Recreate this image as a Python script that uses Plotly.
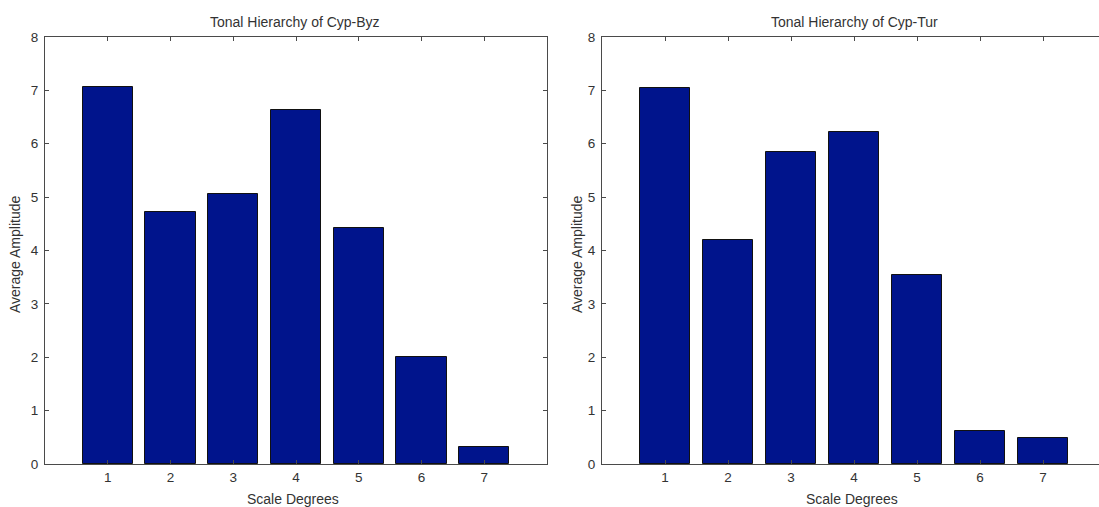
import plotly.graph_objects as go

# Scale degrees and average amplitude per degree
degrees = [1, 2, 3, 4, 5, 6, 7]
cyp_byz = [7.06, 4.73, 5.05, 6.64, 4.42, 2.0, 0.32]
cyp_tur = [7.05, 4.19, 5.84, 6.22, 3.54, 0.61, 0.49]
y_ticks = [0, 1, 2, 3, 4, 5, 6, 7, 8]
titles = ["Tonal Hierarchy of Cyp-Byz", "Tonal Hierarchy of Cyp-Tur"]
x_label = "Scale Degrees"
y_label = "Average Amplitude"

W, H = 1099, 507
BAR = "#00148C"
AXIS = "#4a4a4a"
TEXT = "#333333"
FONT = "Liberation Sans, Arial, sans-serif"

fig = go.Figure()
fig.add_trace(go.Bar(x=degrees, y=cyp_byz, width=0.8, marker=dict(color=BAR, line=dict(color="#111111", width=1)),
                     xaxis="x", yaxis="y", showlegend=False))
fig.add_trace(go.Bar(x=degrees, y=cyp_tur, width=0.8, marker=dict(color=BAR, line=dict(color="#111111", width=1)),
                     xaxis="x2", yaxis="y2", showlegend=False))

# panel geometry in pixels
left_dom = (45 / W, 547 / W)
right_dom = (602 / W, 1.0)
y_dom = ((H - 464) / H, (H - 37) / H)

tick_font = dict(size=13.5, color=TEXT, family=FONT)
xcommon = dict(tickmode="array", tickvals=degrees, ticks="inside", ticklen=4, tickcolor=AXIS,
               showline=True, linecolor=AXIS, linewidth=1, mirror="ticks", showgrid=False,
               zeroline=False, tickfont=tick_font, ticklabelstandoff=1, automargin=False,
               fixedrange=True)
ycommon = dict(tickmode="array", tickvals=y_ticks, range=[0, 8], ticks="inside", ticklen=4,
               tickcolor=AXIS, showline=True, linecolor=AXIS, linewidth=1, showgrid=False,
               zeroline=False, tickfont=tick_font, ticklabelstandoff=3, automargin=False,
               fixedrange=True)

fig.update_layout(
    width=W, height=H,
    margin=dict(l=0, r=0, t=0, b=0, pad=0),
    paper_bgcolor="white", plot_bgcolor="white",
    bargap=0,
    xaxis=dict(domain=list(left_dom), range=[0, 8], anchor="y", **xcommon),
    yaxis=dict(domain=list(y_dom), anchor="x", mirror="ticks", **ycommon),
    xaxis2=dict(domain=list(right_dom), range=[0, (W - 602) / 63.0], anchor="y2", **xcommon),
    yaxis2=dict(domain=list(y_dom), anchor="x2", mirror=False, **ycommon),
)

# titles and axis labels
ann_font = dict(size=14, color=TEXT, family=FONT)
centers = [295 / W, 854 / W]
ylab_x = [15 / W, 577 / W]
for i in range(2):
    fig.add_annotation(text=titles[i], xref="paper", yref="paper", x=centers[i], y=(H - 22) / H,
                       showarrow=False, font=ann_font, xanchor="center", yanchor="middle")
    fig.add_annotation(text=x_label, xref="paper", yref="paper", x=centers[i] - 2 / W, y=(H - 499) / H,
                       showarrow=False, font=ann_font, xanchor="center", yanchor="middle")
    fig.add_annotation(text=y_label, xref="paper", yref="paper", x=ylab_x[i], y=(H - 255) / H,
                       showarrow=False, font=ann_font, textangle=-90, xanchor="center", yanchor="middle")

fig.write_html("out.html", config=dict(displayModeBar=False))
